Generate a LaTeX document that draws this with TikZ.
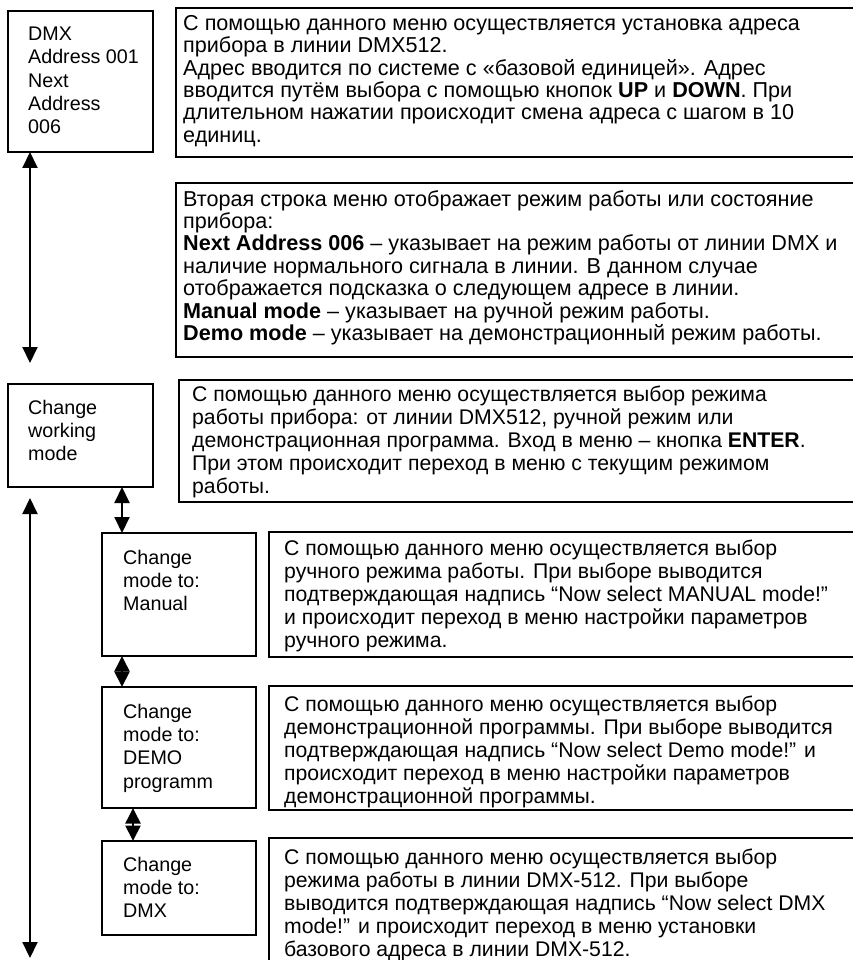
\documentclass[tikz,border=0pt]{standalone}
\usepackage{fontspec}
\setmainfont{Liberation Sans}
\usetikzlibrary{arrows.meta}
\begin{document}
\begin{tikzpicture}[x=1pt,y=-1pt,
  boxframe/.style={draw, line width=1.6pt},
  ltxt/.style={anchor=north west, inner sep=0pt, align=left, font=\fontsize{19.7}{23.2}\selectfont},
  txt/.style={anchor=north west, inner sep=0pt, align=left, font=\fontsize{21.2}{23}\selectfont},
  utxt/.style={anchor=north west, inner sep=0pt, align=left, font=\fontsize{21.6}{22.4}\selectfont},
  dblarrow/.style={line width=2pt, {Triangle[width=15pt,length=16pt]}-{Triangle[width=15pt,length=16pt]}},
  diam/.style={line width=2pt, {Triangle[width=15pt,length=15.5pt]}-{Triangle[width=15pt,length=15.5pt]}}
]
\useasboundingbox (0,0) rectangle (852,960);

% left menu boxes
\draw[boxframe] (8,11) rectangle (153,152);
\coordinate (b1s) at (30,152);
\node[ltxt] (b1t) at (28,27) {DMX\\Address 001\\Next\\Address\\006};

\draw[boxframe] (8,384) rectangle (153,487);
\coordinate (b2s) at (122,487);
\node[ltxt] (b2t) at (28,400) {Change\\working\\mode};

\draw[boxframe] (102,533) rectangle (256,656);
\node[ltxt] (m1t) at (123,550) {Change\\mode to:\\Manual};
\coordinate (m1n) at (122,533);
\coordinate (m1s) at (122,656);

\draw[boxframe] (102,687) rectangle (256,808);
\node[ltxt] (m2t) at (123,704) {Change\\mode to:\\DEMO\\programm};
\coordinate (m2n) at (122,687);
\coordinate (m2s) at (133,808);

\draw[boxframe] (102,841) rectangle (256,935);
\node[ltxt] (m3t) at (123,857) {Change\\mode to:\\DMX};
\coordinate (m3n) at (133,841);

% description boxes
\draw[boxframe] (176,8) rectangle (858,157);
\node[utxt] (t1) at (183,15) {С помощью данного меню осуществляется установка адреса\\
прибора в линии DMX512.\\
Адрес вводится по системе с «базовой единицей». Адрес\\
вводится путём выбора с помощью кнопок \textbf{UP} и \textbf{DOWN}. При\\
длительном нажатии происходит смена адреса с шагом в 10\\
единиц.};

\draw[boxframe] (176,183) rectangle (858,357);
\node[utxt] (t2) at (183,190) {Вторая строка меню отображает режим работы или состояние\\
прибора:\\
\textbf{Next Address 006} – указывает на режим работы от линии DMX и\\
наличие нормального сигнала в линии. В данном случае\\
отображается подсказка о следующем адресе в линии.\\
\textbf{Manual mode} – указывает на ручной режим работы.\\
\textbf{Demo mode} – указывает на демонстрационный режим работы.};

\draw[boxframe] (179,380) rectangle (858,502);
\node[txt] (t3) at (192,386) {С помощью данного меню осуществляется выбор режима\\
работы прибора: от линии DMX512, ручной режим или\\
демонстрационная программа. Вход в меню – кнопка \textbf{ENTER}.\\
При этом происходит переход в меню с текущим режимом\\
работы.};

\draw[boxframe] (269,532) rectangle (858,657);
\node[txt] (tm1) at (284,540) {С помощью данного меню осуществляется выбор\\
ручного режима работы. При выборе выводится\\
подтверждающая надпись “Now select MANUAL mode!”\\
и происходит переход в меню настройки параметров\\
ручного режима.};

\draw[boxframe] (269,686) rectangle (858,810);
\node[txt] (tm2) at (284,696) {С помощью данного меню осуществляется выбор\\
демонстрационной программы. При выборе выводится\\
подтверждающая надпись “Now select Demo mode!” и\\
происходит переход в меню настройки параметров\\
демонстрационной программы.};

\draw[boxframe] (269,838) rectangle (858,966);
\node[txt] (tm3) at (284,849) {С помощью данного меню осуществляется выбор\\
режима работы в линии DMX-512. При выборе\\
выводится подтверждающая надпись “Now select DMX\\
mode!” и происходит переход в меню установки\\
базового адреса в линии DMX-512.};

% connectors
\coordinate (a1e) at (30,363);
\draw[dblarrow] (b1s) -- (a1e);
\draw[dblarrow] (b2s) -- (m1n);
\draw[diam] (m1s) -- (m2n);
\draw[diam] (m2s) -- (m3n);
\coordinate (a2s) at (30,498);
\coordinate (a2e) at (30,958);
\draw[dblarrow] (a2s) -- (a2e);
\end{tikzpicture}
\end{document}
